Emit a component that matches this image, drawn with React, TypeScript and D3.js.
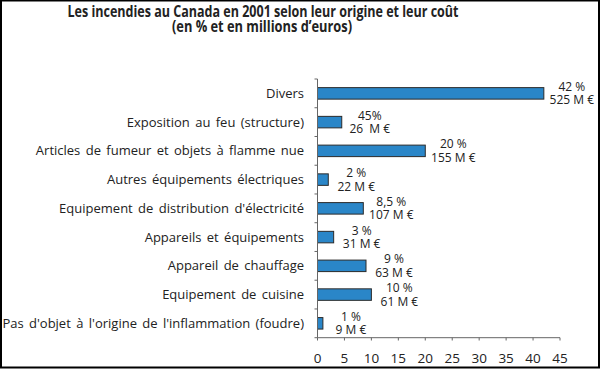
import { useEffect } from 'react';
import * as d3 from 'd3';

const categories = [
  'Divers',
  'Exposition au feu (structure)',
  'Articles de fumeur et objets à flamme nue',
  'Autres équipements électriques',
  "Equipement de distribution d'électricité",
  'Appareils et équipements',
  'Appareil de chauffage',
  'Equipement de cuisine',
  "Pas d'objet à l'origine de l'inflammation (foudre)",
];

const shares = [42, 4.5, 20, 2, 8.5, 3, 9, 10, 1];

const shareLabels = ['42 %', '45%', '20 %', '2 %', '8,5 %', '3 %', '9 %', '10 %', '1 %'];

const costLabels = ['525 M €', '26  M €', '155 M €', '22 M €', '107 M €', '31 M €', '63 M €', '61 M €', '9 M €'];

const xTicks = [0, 5, 10, 15, 20, 25, 30, 35, 40, 45];

const W = 600;
const H = 369;
const FONT = "'Open Sans', 'Noto Sans', sans-serif";

export default function App() {
  useEffect(() => {
    document.body.style.margin = '0';
  }, []);

  const x = d3.scaleLinear().domain([0, 45]).range([317.5, 560]);
  const y = d3.scaleBand<string>().domain(categories).range([79, 337.7]).padding(0);
  const barH = y.bandwidth() * 0.4;
  const axisColor = '#666';

  return (
    <svg width={W} height={H} style={{ display: 'block', background: '#fff' }} fontFamily={FONT}>
      <rect x={1} y={0.5} width={W - 2} height={H - 2} fill="#fff" stroke="#000" strokeWidth={2} />

      {/* title */}
      <text x={263} y={17} textAnchor="middle" fontSize={16.5} fontWeight="bold" fill="#222"
        textLength={391} lengthAdjust="spacingAndGlyphs">
        Les incendies au Canada en 2001 selon leur origine et leur coût
      </text>
      <text x={262} y={31.5} textAnchor="middle" fontSize={16.5} fontWeight="bold" fill="#222"
        textLength={180} lengthAdjust="spacingAndGlyphs">
        (en % et en millions d’euros)
      </text>

      {/* bars */}
      {categories.map((c, i) => {
        const cy = (y(c) ?? 0) + y.bandwidth() / 2;
        return (
          <g key={c}>
            <rect x={x(0)} y={cy - barH / 2} width={x(shares[i]) - x(0)} height={barH}
              fill="#2a86c8" stroke="#2b2b2b" strokeWidth={1} />
            <text x={304} y={cy + 4.5} textAnchor="end" fontSize={13} wordSpacing={2} fill="#222">{c}</text>
            <text x={x(shares[i]) + 28} y={cy - 2.5} textAnchor="middle" fontSize={12} fill="#222"
              style={{ whiteSpace: 'pre' }}>{shareLabels[i]}</text>
            <text x={x(shares[i]) + 28} y={cy + 11} textAnchor="middle" fontSize={12} fill="#222"
              style={{ whiteSpace: 'pre' }}>{costLabels[i]}</text>
          </g>
        );
      })}

      {/* y axis */}
      <line x1={x(0)} x2={x(0)} y1={79} y2={337.7} stroke={axisColor} />
      {[...categories.map((c) => y(c) ?? 0), 337.7].map((v, i) => (
        <line key={i} x1={x(0) - 3} x2={x(0)} y1={v} y2={v} stroke={axisColor} />
      ))}

      {/* x axis */}
      <line x1={x(0)} x2={x(45)} y1={337.7} y2={337.7} stroke={axisColor} />
      {xTicks.map((t) => (
        <g key={t}>
          <line x1={x(t)} x2={x(t)} y1={337.7} y2={340.5} stroke={axisColor} />
          <text x={x(t)} y={362.5} textAnchor="middle" fontSize={13.5} fill="#222">{t}</text>
        </g>
      ))}
    </svg>
  );
}
